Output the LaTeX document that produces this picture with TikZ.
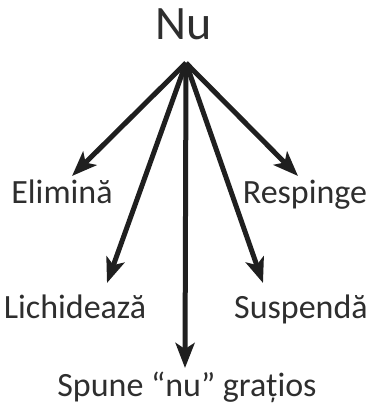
\documentclass[tikz,border=0pt]{standalone}
\usepackage{fontspec}
\setmainfont{Carlito}
\usetikzlibrary{arrows.meta}
\begin{document}
\begin{tikzpicture}[x=1pt,y=-1pt,
  lbl/.style={inner sep=0pt,anchor=base,font=\fontsize{34}{38}\selectfont,text=black!82},
  arr/.style={line width=5pt,-{Stealth[length=25pt,width=19pt,inset=6pt]},draw=black!88}]
\useasboundingbox (0,0) rectangle (371,412);
\node[inner sep=0pt,anchor=base,font=\fontsize{48}{54}\selectfont,text=black!82] (nu) at (184,40) {Nu};
\coordinate (apex) at (186,63);
\node[lbl] (elim) at (62,203) {Elimină};
\node[lbl] (resp) at (305,203) {Respinge};
\node[lbl] (lich) at (75,318) {Lichidează};
\node[lbl] (susp) at (301,318) {Suspendă};
\node[lbl] (spune) at (187,396) {Spune “nu” grațios};
\coordinate (telim) at (72,176);
\coordinate (tresp) at (298,176);
\coordinate (tlich) at (107,283);
\coordinate (tsusp) at (263,283);
\coordinate (tspune) at (185,368);
\foreach \t in {telim,tresp,tlich,tsusp,tspune}
  \draw[arr] (apex) -- (\t);
\end{tikzpicture}
\end{document}
